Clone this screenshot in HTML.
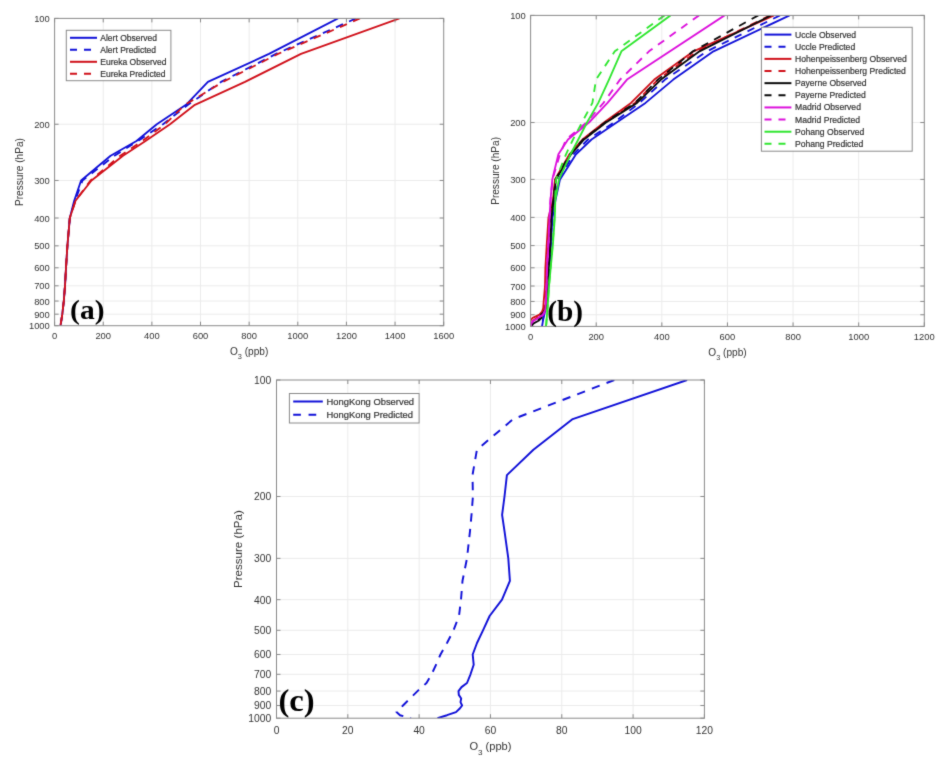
<!DOCTYPE html>
<html><head><meta charset="utf-8"><style>
html,body{margin:0;padding:0;background:#fff;}
svg{display:block;will-change:transform;}
svg text{font-family:"Liberation Sans",sans-serif;font-size:9.2px;fill:#333333;}
.lg{stroke:#333333;stroke-width:0.2px;}
</style></head><body>
<svg width="948" height="766" viewBox="0 0 948 766">
<defs><filter id="bl" x="0" y="0" width="948" height="766" filterUnits="userSpaceOnUse" color-interpolation-filters="sRGB"><feConvolveMatrix order="3" kernelMatrix="0.02 0.08 0.02 0.08 0.6 0.08 0.02 0.08 0.02" divisor="1" edgeMode="duplicate"/></filter></defs>
<g filter="url(#bl)">
<rect width="948" height="766" fill="#fff"/>
<line x1="103.24" y1="18.4" x2="103.24" y2="325.7" stroke="#ebebeb" stroke-width="1"/>
<line x1="151.88" y1="18.4" x2="151.88" y2="325.7" stroke="#ebebeb" stroke-width="1"/>
<line x1="200.51" y1="18.4" x2="200.51" y2="325.7" stroke="#ebebeb" stroke-width="1"/>
<line x1="249.15" y1="18.4" x2="249.15" y2="325.7" stroke="#ebebeb" stroke-width="1"/>
<line x1="297.79" y1="18.4" x2="297.79" y2="325.7" stroke="#ebebeb" stroke-width="1"/>
<line x1="346.43" y1="18.4" x2="346.43" y2="325.7" stroke="#ebebeb" stroke-width="1"/>
<line x1="395.06" y1="18.4" x2="395.06" y2="325.7" stroke="#ebebeb" stroke-width="1"/>
<line x1="54.6" y1="124.24" x2="443.7" y2="124.24" stroke="#ebebeb" stroke-width="1"/>
<line x1="54.6" y1="180.46" x2="443.7" y2="180.46" stroke="#ebebeb" stroke-width="1"/>
<line x1="54.6" y1="218.00" x2="443.7" y2="218.00" stroke="#ebebeb" stroke-width="1"/>
<line x1="54.6" y1="245.84" x2="443.7" y2="245.84" stroke="#ebebeb" stroke-width="1"/>
<line x1="54.6" y1="267.79" x2="443.7" y2="267.79" stroke="#ebebeb" stroke-width="1"/>
<line x1="54.6" y1="285.81" x2="443.7" y2="285.81" stroke="#ebebeb" stroke-width="1"/>
<line x1="54.6" y1="301.04" x2="443.7" y2="301.04" stroke="#ebebeb" stroke-width="1"/>
<line x1="54.6" y1="314.18" x2="443.7" y2="314.18" stroke="#ebebeb" stroke-width="1"/>
<clipPath id="clipa"><rect x="54.6" y="18.4" width="389.10" height="307.30"/></clipPath><g clip-path="url(#clipa)">
<polyline points="338.0,18.4 269.0,53.9 207.9,81.9 186.0,104.8 156.8,124.2 136.5,141.0 110.6,155.7 81.1,180.5 74.2,200.8 69.8,218.0 67.4,245.8 66.0,267.8 65.0,285.8 63.8,301.0 62.3,314.2 60.5,325.7" fill="none" stroke="#1010d8" stroke-width="1.85" stroke-linejoin="round"/>
<polyline points="356.0,18.4 276.0,53.9 221.0,81.9 188.0,104.8 163.0,124.2 138.0,141.0 114.5,155.7 82.5,180.5 75.0,200.8 69.8,218.0 67.4,245.8 66.0,267.8 65.0,285.8 63.8,301.0 62.3,314.2 60.5,325.7" fill="none" stroke="#1010d8" stroke-width="1.85" stroke-linejoin="round" stroke-dasharray="7.60,6.70"/>
<polyline points="399.5,18.4 301.0,53.9 245.0,81.9 194.9,104.8 170.0,124.2 145.5,141.0 123.0,155.7 91.5,180.5 75.5,200.8 69.8,218.0 67.4,245.8 66.0,267.8 65.0,285.8 63.8,301.0 62.3,314.2 60.5,325.7" fill="none" stroke="#d0101a" stroke-width="1.85" stroke-linejoin="round"/>
<polyline points="360.0,18.4 278.0,53.9 223.0,81.9 185.0,104.8 165.0,124.2 142.3,141.0 120.3,155.7 90.5,180.5 75.5,200.8 69.8,218.0 67.4,245.8 66.0,267.8 65.0,285.8 63.8,301.0 62.3,314.2 60.5,325.7" fill="none" stroke="#d0101a" stroke-width="1.85" stroke-linejoin="round" stroke-dasharray="7.60,6.70"/>
</g>
<line x1="54.60" y1="325.7" x2="54.60" y2="321.7" stroke="#8a8a8a"/>
<line x1="54.60" y1="18.4" x2="54.60" y2="22.4" stroke="#8a8a8a"/>
<text x="54.60" y="339.43" text-anchor="middle" style="font-size:9.40px">0</text>
<line x1="103.24" y1="325.7" x2="103.24" y2="321.7" stroke="#8a8a8a"/>
<line x1="103.24" y1="18.4" x2="103.24" y2="22.4" stroke="#8a8a8a"/>
<text x="103.24" y="339.43" text-anchor="middle" style="font-size:9.40px">200</text>
<line x1="151.88" y1="325.7" x2="151.88" y2="321.7" stroke="#8a8a8a"/>
<line x1="151.88" y1="18.4" x2="151.88" y2="22.4" stroke="#8a8a8a"/>
<text x="151.88" y="339.43" text-anchor="middle" style="font-size:9.40px">400</text>
<line x1="200.51" y1="325.7" x2="200.51" y2="321.7" stroke="#8a8a8a"/>
<line x1="200.51" y1="18.4" x2="200.51" y2="22.4" stroke="#8a8a8a"/>
<text x="200.51" y="339.43" text-anchor="middle" style="font-size:9.40px">600</text>
<line x1="249.15" y1="325.7" x2="249.15" y2="321.7" stroke="#8a8a8a"/>
<line x1="249.15" y1="18.4" x2="249.15" y2="22.4" stroke="#8a8a8a"/>
<text x="249.15" y="339.43" text-anchor="middle" style="font-size:9.40px">800</text>
<line x1="297.79" y1="325.7" x2="297.79" y2="321.7" stroke="#8a8a8a"/>
<line x1="297.79" y1="18.4" x2="297.79" y2="22.4" stroke="#8a8a8a"/>
<text x="297.79" y="339.43" text-anchor="middle" style="font-size:9.40px">1000</text>
<line x1="346.43" y1="325.7" x2="346.43" y2="321.7" stroke="#8a8a8a"/>
<line x1="346.43" y1="18.4" x2="346.43" y2="22.4" stroke="#8a8a8a"/>
<text x="346.43" y="339.43" text-anchor="middle" style="font-size:9.40px">1200</text>
<line x1="395.06" y1="325.7" x2="395.06" y2="321.7" stroke="#8a8a8a"/>
<line x1="395.06" y1="18.4" x2="395.06" y2="22.4" stroke="#8a8a8a"/>
<text x="395.06" y="339.43" text-anchor="middle" style="font-size:9.40px">1400</text>
<line x1="443.70" y1="325.7" x2="443.70" y2="321.7" stroke="#8a8a8a"/>
<line x1="443.70" y1="18.4" x2="443.70" y2="22.4" stroke="#8a8a8a"/>
<text x="443.70" y="339.43" text-anchor="middle" style="font-size:9.40px">1600</text>
<line x1="54.6" y1="18.40" x2="58.6" y2="18.40" stroke="#8a8a8a"/>
<line x1="443.7" y1="18.40" x2="439.7" y2="18.40" stroke="#8a8a8a"/>
<text x="49.80" y="22.00" text-anchor="end" style="font-size:9.40px">100</text>
<line x1="54.6" y1="124.24" x2="58.6" y2="124.24" stroke="#8a8a8a"/>
<line x1="443.7" y1="124.24" x2="439.7" y2="124.24" stroke="#8a8a8a"/>
<text x="49.80" y="127.84" text-anchor="end" style="font-size:9.40px">200</text>
<line x1="54.6" y1="180.46" x2="58.6" y2="180.46" stroke="#8a8a8a"/>
<line x1="443.7" y1="180.46" x2="439.7" y2="180.46" stroke="#8a8a8a"/>
<text x="49.80" y="184.06" text-anchor="end" style="font-size:9.40px">300</text>
<line x1="54.6" y1="218.00" x2="58.6" y2="218.00" stroke="#8a8a8a"/>
<line x1="443.7" y1="218.00" x2="439.7" y2="218.00" stroke="#8a8a8a"/>
<text x="49.80" y="221.60" text-anchor="end" style="font-size:9.40px">400</text>
<line x1="54.6" y1="245.84" x2="58.6" y2="245.84" stroke="#8a8a8a"/>
<line x1="443.7" y1="245.84" x2="439.7" y2="245.84" stroke="#8a8a8a"/>
<text x="49.80" y="249.44" text-anchor="end" style="font-size:9.40px">500</text>
<line x1="54.6" y1="267.79" x2="58.6" y2="267.79" stroke="#8a8a8a"/>
<line x1="443.7" y1="267.79" x2="439.7" y2="267.79" stroke="#8a8a8a"/>
<text x="49.80" y="271.39" text-anchor="end" style="font-size:9.40px">600</text>
<line x1="54.6" y1="285.81" x2="58.6" y2="285.81" stroke="#8a8a8a"/>
<line x1="443.7" y1="285.81" x2="439.7" y2="285.81" stroke="#8a8a8a"/>
<text x="49.80" y="289.41" text-anchor="end" style="font-size:9.40px">700</text>
<line x1="54.6" y1="301.04" x2="58.6" y2="301.04" stroke="#8a8a8a"/>
<line x1="443.7" y1="301.04" x2="439.7" y2="301.04" stroke="#8a8a8a"/>
<text x="49.80" y="304.64" text-anchor="end" style="font-size:9.40px">800</text>
<line x1="54.6" y1="314.18" x2="58.6" y2="314.18" stroke="#8a8a8a"/>
<line x1="443.7" y1="314.18" x2="439.7" y2="314.18" stroke="#8a8a8a"/>
<text x="49.80" y="317.78" text-anchor="end" style="font-size:9.40px">900</text>
<line x1="54.6" y1="325.70" x2="58.6" y2="325.70" stroke="#8a8a8a"/>
<line x1="443.7" y1="325.70" x2="439.7" y2="325.70" stroke="#8a8a8a"/>
<text x="49.80" y="329.30" text-anchor="end" style="font-size:9.40px">1000</text>
<rect x="54.6" y="18.4" width="389.10" height="307.30" fill="none" stroke="#8a8a8a" stroke-width="1"/>
<text x="249.15" y="355.10" text-anchor="middle" style="font-size:10.10px">O<tspan style="font-size:7.40px" dy="3.90">3</tspan><tspan dy="-3.90"> (ppb)</tspan></text>
<text transform="translate(22.90,172.05) rotate(-90)" text-anchor="middle" style="font-size:10.10px">Pressure (hPa)</text>
<rect x="66.3" y="30.3" width="104.6" height="50.4" fill="#fff" stroke="#8a8a8a" stroke-width="1"/>
<line x1="70" y1="37.80" x2="97" y2="37.80" stroke="#1010d8" stroke-width="2"/>
<text class="lg" x="100.3" y="40.80" style="font-size:8.5px">Alert Observed</text>
<line x1="70" y1="49.80" x2="97" y2="49.80" stroke="#1010d8" stroke-width="2" stroke-dasharray="7.00,7.00"/>
<text class="lg" x="100.3" y="52.80" style="font-size:8.5px">Alert Predicted</text>
<line x1="70" y1="61.80" x2="97" y2="61.80" stroke="#d0101a" stroke-width="2"/>
<text class="lg" x="100.3" y="64.80" style="font-size:8.5px">Eureka Observed</text>
<line x1="70" y1="73.80" x2="97" y2="73.80" stroke="#d0101a" stroke-width="2" stroke-dasharray="7.00,7.00"/>
<text class="lg" x="100.3" y="76.80" style="font-size:8.5px">Eureka Predicted</text>
<text transform="translate(70.1,319.1) scale(1.08,1)" style="font-family:&quot;Liberation Serif&quot;,serif;font-weight:bold;font-size:27.3px;fill:#000;stroke:none">(a)</text>
<line x1="596.22" y1="15.4" x2="596.22" y2="326.4" stroke="#ebebeb" stroke-width="1"/>
<line x1="661.83" y1="15.4" x2="661.83" y2="326.4" stroke="#ebebeb" stroke-width="1"/>
<line x1="727.45" y1="15.4" x2="727.45" y2="326.4" stroke="#ebebeb" stroke-width="1"/>
<line x1="793.07" y1="15.4" x2="793.07" y2="326.4" stroke="#ebebeb" stroke-width="1"/>
<line x1="858.68" y1="15.4" x2="858.68" y2="326.4" stroke="#ebebeb" stroke-width="1"/>
<line x1="530.6" y1="122.52" x2="924.3" y2="122.52" stroke="#ebebeb" stroke-width="1"/>
<line x1="530.6" y1="179.41" x2="924.3" y2="179.41" stroke="#ebebeb" stroke-width="1"/>
<line x1="530.6" y1="217.40" x2="924.3" y2="217.40" stroke="#ebebeb" stroke-width="1"/>
<line x1="530.6" y1="245.58" x2="924.3" y2="245.58" stroke="#ebebeb" stroke-width="1"/>
<line x1="530.6" y1="267.79" x2="924.3" y2="267.79" stroke="#ebebeb" stroke-width="1"/>
<line x1="530.6" y1="286.03" x2="924.3" y2="286.03" stroke="#ebebeb" stroke-width="1"/>
<line x1="530.6" y1="301.44" x2="924.3" y2="301.44" stroke="#ebebeb" stroke-width="1"/>
<line x1="530.6" y1="314.74" x2="924.3" y2="314.74" stroke="#ebebeb" stroke-width="1"/>
<clipPath id="clipb"><rect x="530.6" y="15.4" width="393.70" height="311.00"/></clipPath><g clip-path="url(#clipb)">
<polyline points="789.6,15.4 713.5,51.3 673.3,79.6 645.5,102.9 616.6,122.5 591.5,139.5 576.0,154.3 560.0,179.4 555.5,200.0 552.5,217.4 550.7,245.6 549.5,267.8 548.5,286.0 547.0,301.4 545.8,308.3 545.0,311.6 544.2,314.7 543.5,317.8 543.0,320.7 542.5,323.6 542.0,326.4" fill="none" stroke="#1010d8" stroke-width="1.85" stroke-linejoin="round"/>
<polyline points="780.0,15.4 707.0,51.3 665.0,79.6 639.5,102.9 614.0,122.5 588.0,139.5 573.5,154.3 558.5,179.4 555.0,200.0 552.0,217.4 550.5,245.6 549.0,267.8 548.0,286.0 546.5,301.4 545.5,308.3 544.8,311.6 544.0,314.7 543.3,317.8 542.8,320.7 542.3,323.6 542.0,326.4" fill="none" stroke="#1010d8" stroke-width="1.85" stroke-linejoin="round" stroke-dasharray="7.60,6.70"/>
<polyline points="774.0,15.4 693.5,51.3 654.3,79.6 631.0,102.9 604.0,122.5 582.5,139.5 569.5,154.3 555.0,179.4 553.0,200.0 548.5,217.4 546.7,245.6 545.4,267.8 545.0,286.0 543.7,301.4 543.2,308.3 542.1,311.6 539.5,314.7 532.7,317.8 530.4,320.7 530.1,323.6 530.6,326.4" fill="none" stroke="#d0101a" stroke-width="1.85" stroke-linejoin="round"/>
<polyline points="770.0,15.4 697.0,51.3 658.0,79.6 635.0,102.9 605.5,122.5 583.0,139.5 570.0,154.3 555.5,179.4 553.5,200.0 550.0,217.4 548.0,245.6 547.0,267.8 546.0,286.0 545.0,301.4 544.5,308.3 543.5,311.6 541.0,314.7 537.0,317.8 533.0,320.7 531.0,323.6 531.0,326.4" fill="none" stroke="#d0101a" stroke-width="1.85" stroke-linejoin="round" stroke-dasharray="7.60,6.70"/>
<polyline points="771.0,15.4 699.5,51.3 661.0,79.6 637.0,102.9 606.0,122.5 584.0,139.5 571.0,154.3 556.0,179.4 553.5,200.0 551.5,217.4 550.3,245.6 549.0,267.8 548.0,286.0 547.0,301.4 546.0,308.3 544.0,311.6 541.5,314.7 541.6,317.8 538.5,320.7 533.2,323.6 531.5,326.4" fill="none" stroke="#0a0a0a" stroke-width="1.85" stroke-linejoin="round"/>
<polyline points="758.3,15.4 693.0,51.3 658.0,79.6 635.0,102.9 605.0,122.5 583.0,139.5 570.0,154.3 555.5,179.4 553.5,200.0 551.0,217.4 550.0,245.6 548.5,267.8 547.5,286.0 546.5,301.4 545.5,308.3 543.5,311.6 541.0,314.7 540.0,317.8 537.0,320.7 533.0,323.6 531.0,326.4" fill="none" stroke="#0a0a0a" stroke-width="1.85" stroke-linejoin="round" stroke-dasharray="7.60,6.70"/>
<polyline points="724.5,15.4 627.0,79.6 607.5,102.9 589.0,122.5 568.0,139.5 558.4,154.3 552.3,179.4 550.5,200.0 549.6,217.4 548.4,245.6 547.0,267.8 546.6,286.0 546.0,301.4 545.5,308.3 544.7,311.6 543.2,314.7 538.5,317.8 533.7,320.7 531.1,323.6 531.0,326.4" fill="none" stroke="#dc10dc" stroke-width="1.85" stroke-linejoin="round"/>
<polyline points="699.0,15.4 649.0,51.3 620.0,79.6 603.5,102.9 586.5,122.5 566.0,139.5 560.0,154.3 552.5,179.4 550.5,200.0 549.5,217.4 548.2,245.6 547.0,267.8 546.5,286.0 545.8,301.4 545.2,308.3 544.5,311.6 543.0,314.7 538.0,317.8 533.0,320.7 531.0,323.6 531.0,326.4" fill="none" stroke="#dc10dc" stroke-width="1.85" stroke-linejoin="round" stroke-dasharray="7.60,6.70"/>
<polyline points="670.5,15.4 621.4,51.3 609.0,79.6 598.3,102.9 587.0,122.5 578.3,139.5 570.5,154.3 559.0,179.4 555.3,200.0 554.8,217.4 552.8,245.6 550.7,267.8 549.0,286.0 548.0,301.4 547.5,308.3 547.2,311.6 547.0,314.7 546.8,317.8 546.5,320.7 546.3,323.6 546.0,326.4" fill="none" stroke="#30e630" stroke-width="1.85" stroke-linejoin="round"/>
<polyline points="664.5,15.4 614.8,51.3 596.0,79.6 592.4,102.9 582.0,122.5 573.0,139.5 566.0,154.3 556.0,179.4 555.0,200.0 554.5,217.4 552.5,245.6 550.5,267.8 549.0,286.0 548.0,301.4 547.5,308.3 547.2,311.6 547.0,314.7 546.8,317.8 546.5,320.7 546.3,323.6 546.0,326.4" fill="none" stroke="#30e630" stroke-width="1.85" stroke-linejoin="round" stroke-dasharray="7.60,6.70"/>
</g>
<line x1="530.60" y1="326.4" x2="530.60" y2="322.4" stroke="#8a8a8a"/>
<line x1="530.60" y1="15.4" x2="530.60" y2="19.4" stroke="#8a8a8a"/>
<text x="530.60" y="340.13" text-anchor="middle" style="font-size:9.40px">0</text>
<line x1="596.22" y1="326.4" x2="596.22" y2="322.4" stroke="#8a8a8a"/>
<line x1="596.22" y1="15.4" x2="596.22" y2="19.4" stroke="#8a8a8a"/>
<text x="596.22" y="340.13" text-anchor="middle" style="font-size:9.40px">200</text>
<line x1="661.83" y1="326.4" x2="661.83" y2="322.4" stroke="#8a8a8a"/>
<line x1="661.83" y1="15.4" x2="661.83" y2="19.4" stroke="#8a8a8a"/>
<text x="661.83" y="340.13" text-anchor="middle" style="font-size:9.40px">400</text>
<line x1="727.45" y1="326.4" x2="727.45" y2="322.4" stroke="#8a8a8a"/>
<line x1="727.45" y1="15.4" x2="727.45" y2="19.4" stroke="#8a8a8a"/>
<text x="727.45" y="340.13" text-anchor="middle" style="font-size:9.40px">600</text>
<line x1="793.07" y1="326.4" x2="793.07" y2="322.4" stroke="#8a8a8a"/>
<line x1="793.07" y1="15.4" x2="793.07" y2="19.4" stroke="#8a8a8a"/>
<text x="793.07" y="340.13" text-anchor="middle" style="font-size:9.40px">800</text>
<line x1="858.68" y1="326.4" x2="858.68" y2="322.4" stroke="#8a8a8a"/>
<line x1="858.68" y1="15.4" x2="858.68" y2="19.4" stroke="#8a8a8a"/>
<text x="858.68" y="340.13" text-anchor="middle" style="font-size:9.40px">1000</text>
<line x1="924.30" y1="326.4" x2="924.30" y2="322.4" stroke="#8a8a8a"/>
<line x1="924.30" y1="15.4" x2="924.30" y2="19.4" stroke="#8a8a8a"/>
<text x="924.30" y="340.13" text-anchor="middle" style="font-size:9.40px">1200</text>
<line x1="530.6" y1="15.40" x2="534.6" y2="15.40" stroke="#8a8a8a"/>
<line x1="924.3" y1="15.40" x2="920.3" y2="15.40" stroke="#8a8a8a"/>
<text x="525.80" y="19.00" text-anchor="end" style="font-size:9.40px">100</text>
<line x1="530.6" y1="122.52" x2="534.6" y2="122.52" stroke="#8a8a8a"/>
<line x1="924.3" y1="122.52" x2="920.3" y2="122.52" stroke="#8a8a8a"/>
<text x="525.80" y="126.12" text-anchor="end" style="font-size:9.40px">200</text>
<line x1="530.6" y1="179.41" x2="534.6" y2="179.41" stroke="#8a8a8a"/>
<line x1="924.3" y1="179.41" x2="920.3" y2="179.41" stroke="#8a8a8a"/>
<text x="525.80" y="183.01" text-anchor="end" style="font-size:9.40px">300</text>
<line x1="530.6" y1="217.40" x2="534.6" y2="217.40" stroke="#8a8a8a"/>
<line x1="924.3" y1="217.40" x2="920.3" y2="217.40" stroke="#8a8a8a"/>
<text x="525.80" y="221.00" text-anchor="end" style="font-size:9.40px">400</text>
<line x1="530.6" y1="245.58" x2="534.6" y2="245.58" stroke="#8a8a8a"/>
<line x1="924.3" y1="245.58" x2="920.3" y2="245.58" stroke="#8a8a8a"/>
<text x="525.80" y="249.18" text-anchor="end" style="font-size:9.40px">500</text>
<line x1="530.6" y1="267.79" x2="534.6" y2="267.79" stroke="#8a8a8a"/>
<line x1="924.3" y1="267.79" x2="920.3" y2="267.79" stroke="#8a8a8a"/>
<text x="525.80" y="271.39" text-anchor="end" style="font-size:9.40px">600</text>
<line x1="530.6" y1="286.03" x2="534.6" y2="286.03" stroke="#8a8a8a"/>
<line x1="924.3" y1="286.03" x2="920.3" y2="286.03" stroke="#8a8a8a"/>
<text x="525.80" y="289.63" text-anchor="end" style="font-size:9.40px">700</text>
<line x1="530.6" y1="301.44" x2="534.6" y2="301.44" stroke="#8a8a8a"/>
<line x1="924.3" y1="301.44" x2="920.3" y2="301.44" stroke="#8a8a8a"/>
<text x="525.80" y="305.04" text-anchor="end" style="font-size:9.40px">800</text>
<line x1="530.6" y1="314.74" x2="534.6" y2="314.74" stroke="#8a8a8a"/>
<line x1="924.3" y1="314.74" x2="920.3" y2="314.74" stroke="#8a8a8a"/>
<text x="525.80" y="318.34" text-anchor="end" style="font-size:9.40px">900</text>
<line x1="530.6" y1="326.40" x2="534.6" y2="326.40" stroke="#8a8a8a"/>
<line x1="924.3" y1="326.40" x2="920.3" y2="326.40" stroke="#8a8a8a"/>
<text x="525.80" y="330.00" text-anchor="end" style="font-size:9.40px">1000</text>
<rect x="530.6" y="15.4" width="393.70" height="311.00" fill="none" stroke="#8a8a8a" stroke-width="1"/>
<text x="727.45" y="355.80" text-anchor="middle" style="font-size:10.10px">O<tspan style="font-size:7.40px" dy="3.90">3</tspan><tspan dy="-3.90"> (ppb)</tspan></text>
<text transform="translate(498.90,170.90) rotate(-90)" text-anchor="middle" style="font-size:10.10px">Pressure (hPa)</text>
<rect x="761.4" y="27.3" width="150.8" height="123.9" fill="#fff" stroke="#8a8a8a" stroke-width="1"/>
<line x1="764.5" y1="34.60" x2="791.4" y2="34.60" stroke="#1010d8" stroke-width="2"/>
<text class="lg" x="795" y="37.60" style="font-size:8.6px">Uccle Observed</text>
<line x1="764.5" y1="46.74" x2="791.4" y2="46.74" stroke="#1010d8" stroke-width="2" stroke-dasharray="7.00,7.00"/>
<text class="lg" x="795" y="49.74" style="font-size:8.6px">Uccle Predicted</text>
<line x1="764.5" y1="58.88" x2="791.4" y2="58.88" stroke="#d0101a" stroke-width="2"/>
<text class="lg" x="795" y="61.88" style="font-size:8.6px">Hohenpeissenberg Observed</text>
<line x1="764.5" y1="71.02" x2="791.4" y2="71.02" stroke="#d0101a" stroke-width="2" stroke-dasharray="7.00,7.00"/>
<text class="lg" x="795" y="74.02" style="font-size:8.6px">Hohenpeissenberg Predicted</text>
<line x1="764.5" y1="83.16" x2="791.4" y2="83.16" stroke="#0a0a0a" stroke-width="2"/>
<text class="lg" x="795" y="86.16" style="font-size:8.6px">Payerne Observed</text>
<line x1="764.5" y1="95.30" x2="791.4" y2="95.30" stroke="#0a0a0a" stroke-width="2" stroke-dasharray="7.00,7.00"/>
<text class="lg" x="795" y="98.30" style="font-size:8.6px">Payerne Predicted</text>
<line x1="764.5" y1="107.44" x2="791.4" y2="107.44" stroke="#dc10dc" stroke-width="2"/>
<text class="lg" x="795" y="110.44" style="font-size:8.6px">Madrid Observed</text>
<line x1="764.5" y1="119.58" x2="791.4" y2="119.58" stroke="#dc10dc" stroke-width="2" stroke-dasharray="7.00,7.00"/>
<text class="lg" x="795" y="122.58" style="font-size:8.6px">Madrid Predicted</text>
<line x1="764.5" y1="131.72" x2="791.4" y2="131.72" stroke="#30e630" stroke-width="2"/>
<text class="lg" x="795" y="134.72" style="font-size:8.6px">Pohang Observed</text>
<line x1="764.5" y1="143.86" x2="791.4" y2="143.86" stroke="#30e630" stroke-width="2" stroke-dasharray="7.00,7.00"/>
<text class="lg" x="795" y="146.86" style="font-size:8.6px">Pohang Predicted</text>
<text transform="translate(547.3,320.5) scale(1.0,1)" style="font-family:&quot;Liberation Serif&quot;,serif;font-weight:bold;font-size:29.3px;fill:#000;stroke:none">(b)</text>
<line x1="347.82" y1="380.0" x2="347.82" y2="718.2" stroke="#ebebeb" stroke-width="1"/>
<line x1="419.13" y1="380.0" x2="419.13" y2="718.2" stroke="#ebebeb" stroke-width="1"/>
<line x1="490.45" y1="380.0" x2="490.45" y2="718.2" stroke="#ebebeb" stroke-width="1"/>
<line x1="561.77" y1="380.0" x2="561.77" y2="718.2" stroke="#ebebeb" stroke-width="1"/>
<line x1="633.08" y1="380.0" x2="633.08" y2="718.2" stroke="#ebebeb" stroke-width="1"/>
<line x1="276.5" y1="496.49" x2="704.4" y2="496.49" stroke="#ebebeb" stroke-width="1"/>
<line x1="276.5" y1="558.36" x2="704.4" y2="558.36" stroke="#ebebeb" stroke-width="1"/>
<line x1="276.5" y1="599.67" x2="704.4" y2="599.67" stroke="#ebebeb" stroke-width="1"/>
<line x1="276.5" y1="630.31" x2="704.4" y2="630.31" stroke="#ebebeb" stroke-width="1"/>
<line x1="276.5" y1="654.47" x2="704.4" y2="654.47" stroke="#ebebeb" stroke-width="1"/>
<line x1="276.5" y1="674.30" x2="704.4" y2="674.30" stroke="#ebebeb" stroke-width="1"/>
<line x1="276.5" y1="691.06" x2="704.4" y2="691.06" stroke="#ebebeb" stroke-width="1"/>
<line x1="276.5" y1="705.52" x2="704.4" y2="705.52" stroke="#ebebeb" stroke-width="1"/>
<clipPath id="clipc"><rect x="276.5" y="380.0" width="427.90" height="338.20"/></clipPath><g clip-path="url(#clipc)">
<polyline points="687.1,380.0 572.7,419.1 533.4,449.8 506.9,475.1 504.5,496.5 502.1,514.9 504.5,531.1 508.3,558.4 509.9,580.8 502.0,599.7 489.6,616.0 483.0,630.3 477.0,643.0 472.7,654.5 473.7,664.8 470.5,674.3 467.0,683.0 461.5,687.1 458.5,691.1 458.8,694.9 461.2,698.5 460.5,702.1 462.1,705.5 459.5,708.8 456.0,712.1 447.0,715.2 437.5,718.2" fill="none" stroke="#1010d8" stroke-width="1.94" stroke-linejoin="round"/>
<polyline points="614.3,380.0 513.2,419.1 476.9,449.8 472.5,475.1 472.9,496.5 471.5,514.9 470.0,531.1 467.0,558.4 462.5,580.8 461.0,599.7 459.0,616.0 453.5,630.3 447.0,643.0 440.5,654.5 436.0,664.8 431.6,674.3 426.5,683.0 422.0,687.1 417.5,691.1 410.0,698.5 403.0,705.5 396.5,712.1 400.0,715.2 411.0,718.2" fill="none" stroke="#1010d8" stroke-width="1.94" stroke-linejoin="round" stroke-dasharray="8.34,7.36"/>
</g>
<line x1="276.50" y1="718.2" x2="276.50" y2="714.2" stroke="#8a8a8a"/>
<line x1="276.50" y1="380.0" x2="276.50" y2="384.0" stroke="#8a8a8a"/>
<text x="276.50" y="733.97" text-anchor="middle" style="font-size:10.32px">0</text>
<line x1="347.82" y1="718.2" x2="347.82" y2="714.2" stroke="#8a8a8a"/>
<line x1="347.82" y1="380.0" x2="347.82" y2="384.0" stroke="#8a8a8a"/>
<text x="347.82" y="733.97" text-anchor="middle" style="font-size:10.32px">20</text>
<line x1="419.13" y1="718.2" x2="419.13" y2="714.2" stroke="#8a8a8a"/>
<line x1="419.13" y1="380.0" x2="419.13" y2="384.0" stroke="#8a8a8a"/>
<text x="419.13" y="733.97" text-anchor="middle" style="font-size:10.32px">40</text>
<line x1="490.45" y1="718.2" x2="490.45" y2="714.2" stroke="#8a8a8a"/>
<line x1="490.45" y1="380.0" x2="490.45" y2="384.0" stroke="#8a8a8a"/>
<text x="490.45" y="733.97" text-anchor="middle" style="font-size:10.32px">60</text>
<line x1="561.77" y1="718.2" x2="561.77" y2="714.2" stroke="#8a8a8a"/>
<line x1="561.77" y1="380.0" x2="561.77" y2="384.0" stroke="#8a8a8a"/>
<text x="561.77" y="733.97" text-anchor="middle" style="font-size:10.32px">80</text>
<line x1="633.08" y1="718.2" x2="633.08" y2="714.2" stroke="#8a8a8a"/>
<line x1="633.08" y1="380.0" x2="633.08" y2="384.0" stroke="#8a8a8a"/>
<text x="633.08" y="733.97" text-anchor="middle" style="font-size:10.32px">100</text>
<line x1="704.40" y1="718.2" x2="704.40" y2="714.2" stroke="#8a8a8a"/>
<line x1="704.40" y1="380.0" x2="704.40" y2="384.0" stroke="#8a8a8a"/>
<text x="704.40" y="733.97" text-anchor="middle" style="font-size:10.32px">120</text>
<line x1="276.5" y1="380.00" x2="280.5" y2="380.00" stroke="#8a8a8a"/>
<line x1="704.4" y1="380.00" x2="700.4" y2="380.00" stroke="#8a8a8a"/>
<text x="271.23" y="383.95" text-anchor="end" style="font-size:10.32px">100</text>
<line x1="276.5" y1="496.49" x2="280.5" y2="496.49" stroke="#8a8a8a"/>
<line x1="704.4" y1="496.49" x2="700.4" y2="496.49" stroke="#8a8a8a"/>
<text x="271.23" y="500.44" text-anchor="end" style="font-size:10.32px">200</text>
<line x1="276.5" y1="558.36" x2="280.5" y2="558.36" stroke="#8a8a8a"/>
<line x1="704.4" y1="558.36" x2="700.4" y2="558.36" stroke="#8a8a8a"/>
<text x="271.23" y="562.31" text-anchor="end" style="font-size:10.32px">300</text>
<line x1="276.5" y1="599.67" x2="280.5" y2="599.67" stroke="#8a8a8a"/>
<line x1="704.4" y1="599.67" x2="700.4" y2="599.67" stroke="#8a8a8a"/>
<text x="271.23" y="603.62" text-anchor="end" style="font-size:10.32px">400</text>
<line x1="276.5" y1="630.31" x2="280.5" y2="630.31" stroke="#8a8a8a"/>
<line x1="704.4" y1="630.31" x2="700.4" y2="630.31" stroke="#8a8a8a"/>
<text x="271.23" y="634.26" text-anchor="end" style="font-size:10.32px">500</text>
<line x1="276.5" y1="654.47" x2="280.5" y2="654.47" stroke="#8a8a8a"/>
<line x1="704.4" y1="654.47" x2="700.4" y2="654.47" stroke="#8a8a8a"/>
<text x="271.23" y="658.42" text-anchor="end" style="font-size:10.32px">600</text>
<line x1="276.5" y1="674.30" x2="280.5" y2="674.30" stroke="#8a8a8a"/>
<line x1="704.4" y1="674.30" x2="700.4" y2="674.30" stroke="#8a8a8a"/>
<text x="271.23" y="678.26" text-anchor="end" style="font-size:10.32px">700</text>
<line x1="276.5" y1="691.06" x2="280.5" y2="691.06" stroke="#8a8a8a"/>
<line x1="704.4" y1="691.06" x2="700.4" y2="691.06" stroke="#8a8a8a"/>
<text x="271.23" y="695.01" text-anchor="end" style="font-size:10.32px">800</text>
<line x1="276.5" y1="705.52" x2="280.5" y2="705.52" stroke="#8a8a8a"/>
<line x1="704.4" y1="705.52" x2="700.4" y2="705.52" stroke="#8a8a8a"/>
<text x="271.23" y="709.47" text-anchor="end" style="font-size:10.32px">900</text>
<line x1="276.5" y1="718.20" x2="280.5" y2="718.20" stroke="#8a8a8a"/>
<line x1="704.4" y1="718.20" x2="700.4" y2="718.20" stroke="#8a8a8a"/>
<text x="271.23" y="722.15" text-anchor="end" style="font-size:10.32px">1000</text>
<rect x="276.5" y="380.0" width="427.90" height="338.20" fill="none" stroke="#8a8a8a" stroke-width="1"/>
<text x="490.45" y="750.48" text-anchor="middle" style="font-size:11.09px">O<tspan style="font-size:8.12px" dy="4.28">3</tspan><tspan dy="-4.28"> (ppb)</tspan></text>
<text transform="translate(241.70,549.10) rotate(-90)" text-anchor="middle" style="font-size:11.60px">Pressure (hPa)</text>
<rect x="289.4" y="393.5" width="129.7" height="29.5" fill="#fff" stroke="#8a8a8a" stroke-width="1"/>
<line x1="293.2" y1="401.50" x2="322.8" y2="401.50" stroke="#1010d8" stroke-width="2"/>
<text class="lg" x="326.5" y="404.50" style="font-size:9.4px">HongKong Observed</text>
<line x1="293.2" y1="414.80" x2="322.8" y2="414.80" stroke="#1010d8" stroke-width="2" stroke-dasharray="7.68,7.68"/>
<text class="lg" x="326.5" y="417.80" style="font-size:9.4px">HongKong Predicted</text>
<text transform="translate(278.5,710.8) scale(1.07,1)" style="font-family:&quot;Liberation Serif&quot;,serif;font-weight:bold;font-size:30.5px;fill:#000;stroke:none">(c)</text>
</g>
</svg></body></html>
